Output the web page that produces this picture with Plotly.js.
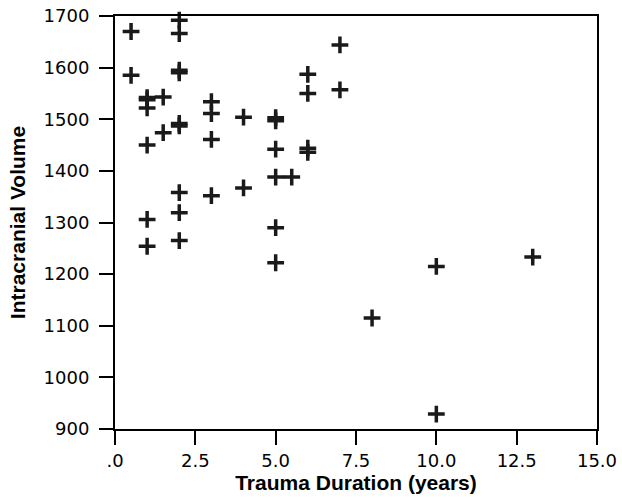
<!DOCTYPE html>
<html><head><meta charset="utf-8">
<script src="https://cdn.plot.ly/plotly-3.0.1.min.js"></script>
<style>body{margin:0;background:#fff}</style>
</head><body><div id="chart" style="width:622px;height:499px"></div>
<script>
const traumaYears = [0.5,0.5, 1,1,1,1,1,1, 1.5,1.5, 2,2,2,2,2,2,2,2,2, 3,3,3,3, 4,4, 5,5,5,5,5,5, 5.5, 6,6,6,6, 7,7, 8, 10,10, 13];
const intracranialVolume = [1670,1585, 1542,1538,1522,1450,1306,1254, 1543,1474, 1692,1666,1595,1590,1492,1487,1358,1319,1265, 1534,1511,1461,1352, 1504,1367, 1503,1497,1442,1388,1290,1222, 1388, 1587,1550,1444,1436, 1644,1557, 1115, 1215,929, 1233];
const xTickVals = [0,2.5,5,7.5,10,12.5,15];
const xTickText = ['.0','2.5','5.0','7.5','10.0','12.5','15.0'];
const yTickVals = [900,1000,1100,1200,1300,1400,1500,1600,1700];
const yTickText = ['900','1000','1100','1200','1300','1400','1500','1600','1700'];

const trace = {
  x: traumaYears, y: intracranialVolume, type: 'scatter', mode: 'markers',
  marker: {symbol: 'cross-thin', size: 12, color: '#1a1a1a', line: {color: '#1a1a1a', width: 3.5}},
  cliponaxis: false, hoverinfo: 'none'
};
const axisCommon = {
  showline: true, mirror: true, linecolor: '#000', linewidth: 2,
  ticks: 'outside', ticklen: 14, tickwidth: 2, tickcolor: '#000',
  showgrid: false, zeroline: false,
  tickfont: {family: 'DejaVu Sans', size: 18, color: '#000'}
};
const layout = {
  width: 622, height: 499,
  margin: {l: 115, r: 25, t: 16, b: 70},
  paper_bgcolor: '#fff', plot_bgcolor: '#fff',
  showlegend: false,
  xaxis: Object.assign({}, axisCommon, {
    range: [0, 15], tickmode: 'array', tickvals: xTickVals, ticktext: xTickText,
    title: {text: 'Trauma Duration (years)', font: {family: 'Liberation Sans', size: 21, color: '#000', weight: 'bold'}, standoff: 6}
  }),
  yaxis: Object.assign({}, axisCommon, {
    range: [900, 1700], tickmode: 'array', tickvals: yTickVals, ticktext: yTickText,
    ticklabelstandoff: 6,
    title: {text: 'Intracranial Volume', font: {family: 'Liberation Sans', size: 21, color: '#000', weight: 'bold'}, standoff: 12}
  })
};
Plotly.newPlot('chart', [trace], layout, {displayModeBar: false, staticPlot: true});
</script></body></html>
